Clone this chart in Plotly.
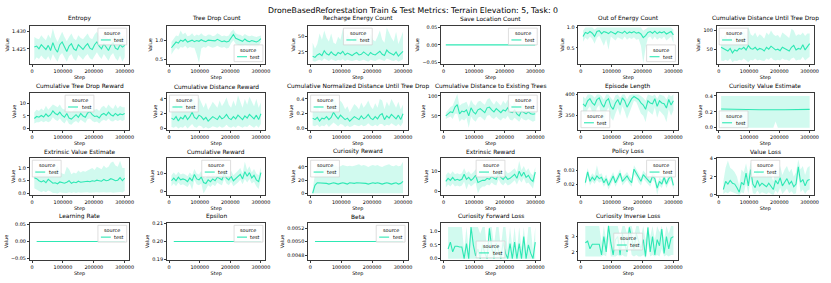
import plotly.graph_objects as go

W, H = 831, 283
LINE = "#2ee8b4"
BAND = "rgba(46,232,180,0.22)"
FONT = "DejaVu Sans"

suptitle = "DroneBasedReforestation Train & Test Metrics: Terrain Elevation: 5, Task: 0"
x_tickvals = [0, 100000, 200000, 300000]
x_ticktext = ["0", "100000", "200000", "300000"]

env_steps = [7500, 15000, 22500, 30000, 37500, 45000, 52500, 60000, 67500, 75000,
             82500, 90000, 97500, 105000, 112500, 120000, 127500, 135000, 142500, 150000,
             157500, 165000, 172500, 180000, 187500, 195000, 202500, 210000, 217500, 225000,
             232500, 240000, 247500, 255000, 262500, 270000, 277500, 285000, 292500, 300000]
train_steps = env_steps[1:]

entropy_mean = [1.4255, 1.4258, 1.4250, 1.4262, 1.4255, 1.4248, 1.4260, 1.4245, 1.4268, 1.4250,
                1.4240, 1.4262, 1.4270, 1.4255, 1.4242, 1.4258, 1.4265, 1.4250, 1.4245, 1.4262,
                1.4255, 1.4248, 1.4258, 1.4265, 1.4252, 1.4248, 1.4262, 1.4270, 1.4258, 1.4250,
                1.4265, 1.4255, 1.4245, 1.4260, 1.4268, 1.4252, 1.4248, 1.4262, 1.4255, 1.4260]
entropy_hi = [1.4285, 1.4280, 1.4278, 1.4290, 1.4282, 1.4275, 1.4292, 1.4280, 1.4310, 1.4285,
              1.4270, 1.4288, 1.4300, 1.4285, 1.4272, 1.4285, 1.4295, 1.4280, 1.4275, 1.4290,
              1.4282, 1.4278, 1.4288, 1.4295, 1.4282, 1.4278, 1.4292, 1.4300, 1.4288, 1.4280,
              1.4295, 1.4285, 1.4278, 1.4290, 1.4298, 1.4282, 1.4280, 1.4292, 1.4285, 1.4290]
entropy_lo = [1.4215, 1.4225, 1.4220, 1.4230, 1.4222, 1.4218, 1.4228, 1.4215, 1.4235, 1.4222,
              1.4212, 1.4230, 1.4238, 1.4225, 1.4212, 1.4228, 1.4235, 1.4220, 1.4215, 1.4232,
              1.4225, 1.4218, 1.4228, 1.4235, 1.4222, 1.4218, 1.4230, 1.4240, 1.4228, 1.4220,
              1.4235, 1.4225, 1.4215, 1.4230, 1.4238, 1.4222, 1.4215, 1.4230, 1.4212, 1.4225]

treedrop_mean = [0.80, 0.88, 0.95, 0.92, 1.00, 0.97, 1.02, 0.95, 0.98, 1.00,
                 0.96, 0.99, 0.97, 1.01, 0.98, 0.96, 1.00, 0.99, 0.97, 0.98,
                 1.02, 0.99, 0.96, 0.98, 0.95, 0.97, 1.08, 1.15, 1.05, 1.02,
                 1.00, 0.97, 1.03, 0.98, 0.96, 0.99, 0.97, 0.95, 0.98, 1.04]
treedrop_hi = [0.95, 1.05, 1.12, 1.10, 1.25, 1.15, 1.20, 1.10, 1.12, 1.18,
               1.10, 1.15, 1.12, 1.18, 1.12, 1.10, 1.15, 1.14, 1.10, 1.12,
               1.18, 1.15, 1.10, 1.12, 1.10, 1.12, 1.22, 1.28, 1.18, 1.15,
               1.14, 1.10, 1.16, 1.12, 1.10, 1.12, 1.10, 1.08, 1.10, 1.12]
treedrop_lo = [0.62, 0.72, 0.80, 0.75, 0.82, 0.80, 0.85, 0.78, 0.82, 0.80,
               0.80, 0.62, 0.40, 0.78, 0.82, 0.80, 0.85, 0.82, 0.80, 0.82,
               0.85, 0.82, 0.80, 0.82, 0.78, 0.80, 0.92, 1.00, 0.90, 0.88,
               0.85, 0.82, 0.88, 0.84, 0.82, 0.85, 0.82, 0.80, 0.84, 0.95]

recharge_mean = [18, 16, 20, 22, 19, 27, 22, 20, 25, 21,
                 19, 24, 22, 26, 20, 23, 21, 19, 22, 24,
                 20, 21, 25, 22, 19, 24, 21, 20, 23, 26,
                 21, 19, 28, 24, 22, 20, 25, 18, 22, 26]
recharge_hi = [40, 30, 38, 55, 45, 60, 48, 42, 55, 40,
               38, 50, 45, 62, 42, 55, 45, 40, 48, 52,
               42, 45, 65, 48, 40, 55, 45, 42, 50, 60,
               45, 40, 65, 55, 48, 42, 58, 38, 48, 58]
recharge_lo = [10, 9, 11, 12, 10, 14, 12, 10, 13, 11,
               10, 12, 11, 13, 10, 12, 11, 10, 11, 12,
               10, 11, 12, 11, 9, 12, 11, 10, 12, 13,
               11, 10, 14, 12, 11, 10, 12, 9, 11, 13]

saveloc_mean = [0, 0, 0, 0, 0, 0, 0, 0, 0, 0, 0, 0, 0, 0, 0, 0, 0, 0, 0, 0,
                0, 0, 0, 0, 0, 0, 0, 0, 0, 0, 0, 0, 0, 0, 0, 0, 0, 0, 0, 0]

outenergy_mean = [0.78, 0.88, 0.85, 0.90, 0.86, 0.78, 0.90, 0.92, 0.85, 0.90,
                  0.88, 0.85, 0.90, 0.87, 0.84, 0.90, 0.88, 0.86, 0.91, 0.85,
                  0.89, 0.87, 0.90, 0.86, 0.88, 0.84, 0.75, 0.80, 0.88, 0.90,
                  0.86, 0.91, 0.85, 0.89, 0.87, 0.90, 0.84, 0.88, 0.90, 0.82]
outenergy_hi = [0.92, 1.0, 1.0, 1.0, 1.0, 0.95, 1.0, 1.0, 1.0, 1.0,
                1.0, 1.0, 1.0, 1.0, 1.0, 1.0, 1.0, 1.0, 1.0, 1.0,
                1.0, 1.0, 1.0, 1.0, 1.0, 1.0, 0.92, 0.95, 1.0, 1.0,
                1.0, 1.0, 1.0, 1.0, 1.0, 1.0, 1.0, 1.0, 1.0, 0.95]
outenergy_lo = [0.65, 0.75, 0.70, 0.78, 0.72, 0.60, 0.75, 0.80, 0.70, 0.55,
                0.72, 0.45, 0.78, 0.72, 0.68, 0.76, 0.74, 0.70, 0.78, 0.70,
                0.75, 0.72, 0.76, 0.70, 0.72, 0.55, 0.12, 0.50, 0.74, 0.78,
                0.70, 0.78, 0.70, 0.75, 0.72, 0.78, 0.68, 0.74, 0.78, 0.62]

cumdist_mean = [55, 52, 50, 45, 52, 40, 48, 45, 52, 50,
                55, 48, 60, 52, 50, 55, 48, 52, 50, 45,
                55, 50, 58, 52, 48, 50, 46, 55, 52, 50,
                45, 55, 60, 48, 52, 50, 62, 48, 55, 65]
cumdist_hi = [85, 80, 90, 75, 95, 70, 88, 85, 92, 80,
              100, 85, 110, 90, 85, 95, 82, 90, 85, 78,
              95, 88, 100, 90, 85, 88, 80, 95, 90, 85,
              80, 105, 100, 85, 90, 88, 95, 85, 92, 92]
cumdist_lo = [20, 18, 22, 18, 25, 15, 20, 18, 22, 20,
              25, 20, 15, 22, 20, 25, 20, 22, 20, 18,
              25, 22, 28, 22, 20, 22, 20, 25, 22, 22,
              18, 25, 28, 20, 22, 22, 30, 20, 25, 30]

ctdr_mean = [4.0, 4.8, 4.5, 5.2, 4.6, 5.8, 4.8, 5.5, 7.0, 6.0,
             5.5, 6.5, 5.2, 4.5, 6.0, 4.2, 3.8, 4.8, 5.5, 4.5,
             6.0, 5.0, 4.5, 6.2, 6.8, 5.5, 4.8, 5.0, 4.2, 5.5,
             6.0, 5.2, 6.5, 5.5, 5.0, 6.0, 5.2, 5.8, 5.5, 6.0]
ctdr_hi = [6.5, 7.5, 7.0, 8.0, 7.2, 9.0, 7.5, 8.5, 9.5, 9.0,
           8.5, 9.5, 8.0, 7.5, 9.0, 7.0, 6.5, 7.5, 8.5, 7.2,
           8.8, 7.8, 7.2, 9.0, 9.5, 8.5, 7.5, 7.8, 7.0, 8.5,
           9.0, 8.0, 9.5, 8.5, 7.8, 9.5, 8.0, 9.0, 8.5, 8.5]
ctdr_lo = [2.0, 2.5, 2.5, 3.0, 2.5, 3.0, 2.5, 3.0, 4.5, 3.5,
           3.0, 4.0, 2.8, 2.0, 3.5, 1.8, 1.5, 2.5, 3.0, 2.2,
           3.5, 2.8, 2.2, 3.8, 4.0, 3.0, 2.5, 2.8, 2.0, 3.0,
           3.5, 3.0, 4.0, 3.0, 2.8, 3.5, 3.0, 3.5, 3.0, 3.5]

cdr_mean = [1.4, 1.2, 1.6, 1.0, 1.5, 1.3, 1.8, 1.2, 1.6, 2.2,
            1.5, 1.3, 1.8, 1.6, 1.2, 1.5, 1.0, 1.3, 1.6, 1.4,
            1.2, 1.7, 1.3, 1.5, 1.9, 1.4, 1.2, 1.6, 1.3, 1.8,
            1.5, 1.2, 1.7, 1.4, 1.9, 1.6, 1.3, 1.8, 1.2, 2.0]
cdr_hi = [3.0, 2.8, 3.5, 2.5, 3.2, 3.0, 4.0, 2.8, 3.5, 4.5,
          3.8, 3.0, 4.2, 3.6, 2.8, 3.5, 2.5, 3.0, 3.6, 3.2,
          2.8, 3.8, 3.0, 3.5, 4.2, 3.2, 2.8, 3.8, 3.0, 4.5,
          3.5, 2.8, 4.0, 3.2, 4.3, 3.6, 3.0, 4.0, 2.8, 3.5]
cdr_lo = [0.2, 0.1, 0.3, 0.0, 0.2, 0.1, 0.4, 0.0, 0.3, 0.6,
          0.2, 0.1, 0.4, 0.3, 0.0, 0.2, 0.0, 0.1, 0.3, 0.2,
          0.1, 0.3, 0.1, 0.2, 0.5, 0.2, 0.1, 0.3, 0.1, 0.4,
          0.2, 0.1, 0.3, 0.2, 0.5, 0.3, 0.1, 0.4, 0.1, 0.6]

cnd_mean = [0.14, 0.12, 0.15, 0.10, 0.14, 0.13, 0.16, 0.12, 0.15, 0.22,
            0.17, 0.13, 0.18, 0.15, 0.12, 0.14, 0.10, 0.13, 0.16, 0.14,
            0.12, 0.17, 0.13, 0.15, 0.19, 0.14, 0.12, 0.16, 0.13, 0.18,
            0.20, 0.12, 0.17, 0.14, 0.19, 0.16, 0.13, 0.18, 0.12, 0.20]
cnd_hi = [0.28, 0.26, 0.32, 0.22, 0.30, 0.28, 0.35, 0.26, 0.32, 0.42,
          0.36, 0.28, 0.38, 0.33, 0.26, 0.30, 0.22, 0.28, 0.33, 0.30,
          0.26, 0.35, 0.28, 0.32, 0.38, 0.30, 0.26, 0.34, 0.28, 0.40,
          0.38, 0.26, 0.36, 0.30, 0.40, 0.34, 0.28, 0.36, 0.26, 0.32]
cnd_lo = [0.04, 0.03, 0.05, 0.02, 0.04, 0.03, 0.06, 0.02, 0.05, 0.08,
          0.05, 0.03, 0.06, 0.05, 0.02, 0.04, 0.02, 0.03, 0.05, 0.04,
          0.03, 0.05, 0.03, 0.04, 0.07, 0.04, 0.03, 0.05, 0.03, 0.06,
          0.06, 0.03, 0.05, 0.04, 0.07, 0.05, 0.03, 0.06, 0.03, 0.08]

cdet_mean = [50, 55, 60, 58, 72, 78, 55, 62, 60, 65,
             50, 70, 60, 55, 65, 68, 62, 58, 70, 72,
             65, 60, 68, 62, 58, 65, 62, 70, 60, 58,
             65, 55, 50, 62, 58, 55, 60, 55, 54, 55]
cdet_hi = [58, 65, 72, 75, 90, 105, 75, 80, 82, 85,
           72, 90, 80, 75, 85, 88, 82, 78, 90, 95,
           85, 78, 88, 82, 75, 88, 80, 90, 80, 75,
           85, 72, 68, 80, 75, 72, 78, 72, 70, 72]
cdet_lo = [42, 45, 48, 42, 55, 55, 35, 42, 38, 45,
           20, 48, 40, 35, 45, 48, 42, 38, 50, 52,
           45, 42, 48, 42, 38, 45, 42, 50, 40, 38,
           45, 40, 35, 45, 40, 38, 42, 38, 35, 38]

eplen_mean = [378, 372, 385, 390, 380, 375, 388, 392, 378, 370,
              385, 390, 372, 365, 380, 388, 375, 392, 385, 370,
              380, 390, 395, 392, 388, 380, 375, 365, 385, 380,
              378, 390, 372, 385, 380, 378, 368, 388, 375, 385]
eplen_hi = [395, 390, 400, 400, 398, 392, 400, 400, 396, 388,
            400, 400, 392, 385, 398, 400, 392, 400, 400, 388,
            398, 400, 400, 400, 400, 396, 392, 385, 400, 398,
            396, 400, 390, 400, 398, 396, 388, 400, 395, 400]
eplen_lo = [355, 350, 365, 372, 358, 350, 368, 375, 340, 320,
            360, 370, 345, 338, 355, 368, 350, 372, 360, 342,
            358, 370, 385, 382, 370, 355, 350, 335, 362, 358,
            352, 370, 345, 362, 355, 350, 335, 365, 350, 362]

cve_mean = [0.235, 0.234, 0.234, 0.233, 0.233, 0.232, 0.232, 0.231, 0.231, 0.230,
            0.230, 0.230, 0.229, 0.229, 0.228, 0.228, 0.228, 0.227, 0.227, 0.226,
            0.226, 0.226, 0.225, 0.225, 0.225, 0.226, 0.226, 0.227, 0.227, 0.228,
            0.228, 0.229, 0.229, 0.229, 0.230, 0.230, 0.230, 0.231, 0.231, 0.231]
cve_hi = [0.40, 0.40, 0.40, 0.40, 0.40, 0.40, 0.40, 0.40, 0.40, 0.40,
          0.40, 0.40, 0.40, 0.40, 0.40, 0.40, 0.40, 0.40, 0.40, 0.40,
          0.40, 0.40, 0.40, 0.40, 0.40, 0.40, 0.40, 0.40, 0.40, 0.40,
          0.40, 0.40, 0.40, 0.40, 0.40, 0.40, 0.40, 0.40, 0.40, 0.40]
cve_lo = [0.0, 0.0, 0.0, 0.0, 0.0, 0.0, 0.0, 0.0, 0.0, 0.0,
          0.0, 0.0, 0.0, 0.0, 0.0, 0.0, 0.0, 0.0, 0.0, 0.0,
          0.0, 0.0, 0.0, 0.0, 0.08, 0.0, 0.0, 0.0, 0.0, 0.0,
          0.0, 0.0, 0.0, 0.0, 0.0, 0.0, 0.0, 0.0, 0.0, 0.0]

eve_mean = [0.62, 0.58, 0.50, 0.45, 0.50, 0.42, 0.55, 0.48, 0.40, 0.42,
            0.38, 0.45, 0.42, 0.40, 0.44, 0.50, 0.40, 0.45, 0.42, 0.48,
            0.44, 0.46, 0.45, 0.48, 0.46, 0.50, 0.48, 0.52, 0.50, 0.48,
            0.55, 0.50, 0.52, 0.58, 0.55, 0.50, 0.52, 0.62, 0.50, 0.60]
eve_hi = [0.95, 0.90, 0.80, 0.78, 0.82, 0.75, 0.90, 0.85, 0.72, 0.95,
          1.10, 0.85, 0.78, 0.75, 1.05, 0.95, 0.75, 0.82, 0.78, 0.90,
          0.82, 0.88, 0.85, 0.90, 0.95, 1.00, 0.92, 1.05, 1.00, 0.95,
          1.10, 1.00, 1.05, 1.20, 1.25, 1.10, 1.05, 1.28, 1.00, 1.00]
eve_lo = [0.20, 0.15, 0.10, 0.05, 0.10, 0.05, 0.12, 0.08, 0.02, 0.02,
          0.00, 0.05, 0.03, 0.02, 0.02, 0.05, 0.02, 0.05, 0.02, 0.05,
          0.03, 0.04, 0.03, 0.05, 0.03, 0.05, 0.04, 0.05, 0.04, 0.03,
          0.05, 0.04, 0.04, 0.05, 0.03, 0.03, 0.04, 0.06, 0.04, 0.10]

cumrew_mean = [6.0, 7.5, 6.0, 8.0, 6.5, 7.0, 6.5, 5.5, 7.5, 6.0,
               9.5, 7.0, 6.5, 8.0, 5.0, 4.5, 6.5, 5.5, 7.0, 6.0,
               8.0, 7.0, 6.5, 10.0, 7.5, 6.5, 8.5, 6.0, 7.0, 8.0,
               9.5, 7.0, 11.0, 8.5, 10.5, 7.5, 9.0, 6.5, 5.5, 10.5]
cumrew_hi = [9.0, 10.5, 9.0, 11.0, 9.5, 10.0, 9.5, 8.5, 10.5, 9.0,
             12.5, 10.0, 9.5, 11.5, 8.0, 7.5, 9.5, 8.5, 10.0, 9.0,
             11.0, 10.0, 9.5, 13.0, 10.5, 9.5, 11.5, 9.0, 10.0, 11.5,
             13.0, 10.0, 16.5, 12.0, 14.0, 10.5, 12.5, 10.0, 9.0, 13.5]
cumrew_lo = [3.0, 4.5, 3.0, 5.0, 3.5, 4.0, 3.5, 2.5, 4.5, 1.0,
             6.5, 4.0, 3.5, 4.5, -1.0, 1.5, 3.5, 2.5, 4.0, 3.0,
             5.0, 4.0, 3.5, 7.0, 4.5, 3.5, 5.5, 3.0, 4.0, 5.0,
             6.5, 4.0, 7.0, 5.0, 7.0, 4.5, 5.5, 3.0, 1.5, 7.5]

currew_mean = [0, 12, 16, 16, 15, 16, 15, 14, 15, 16,
               15, 14, 15, 16, 15, 14, 16, 15, 15, 16,
               16, 15, 16, 15, 14, 15, 16, 15, 16, 15,
               14, 15, 16, 15, 14, 15, 16, 14, 15, 18]
currew_hi = [5, 30, 40, 42, 40, 43, 42, 40, 41, 43,
             42, 40, 41, 43, 42, 41, 42, 41, 42, 43,
             44, 42, 43, 42, 40, 42, 43, 42, 43, 41,
             40, 42, 43, 44, 42, 41, 43, 41, 42, 48]
currew_lo = [0, 0, 0, 0, 0, 0, 0, 0, 0, 0, 0, 0, 0, 0, 0, 0, 0, 0, 0, 0,
             0, 0, 0, 0, 0, 0, 0, 0, 0, 0, 0, 0, 0, 0, 0, 0, 0, 0, 0, 0]

extrew_mean = [5.0, 6.5, 5.5, 7.0, 5.5, 6.0, 5.5, 6.0, 8.5, 6.0,
               7.0, 5.5, 6.5, 8.0, 4.5, 5.0, 5.5, 5.5, 6.5, 6.0,
               7.5, 6.5, 6.0, 9.0, 7.0, 6.0, 7.5, 6.0, 6.5, 7.5,
               8.5, 6.5, 10.0, 7.5, 9.5, 7.0, 8.0, 6.0, 5.0, 9.5]
extrew_hi = [8.0, 9.5, 8.5, 10.0, 8.5, 9.0, 8.5, 9.0, 11.5, 9.0,
             10.0, 8.5, 9.5, 11.0, 7.5, 8.0, 8.5, 8.5, 9.5, 9.0,
             10.5, 9.5, 9.0, 12.0, 10.0, 9.0, 10.5, 9.0, 9.5, 10.5,
             11.5, 9.5, 15.0, 10.5, 12.5, 10.0, 11.5, 9.0, 8.0, 12.0]
extrew_lo = [2.0, 3.5, 2.5, 4.0, 2.5, 3.0, 2.5, 3.0, 5.0, 1.0,
             4.0, 2.5, 3.5, 4.5, -1.0, 1.5, 2.5, 2.5, 3.5, 3.0,
             4.5, 3.5, 3.0, 6.0, 4.0, 3.0, 4.5, 3.0, 3.5, 4.5,
             5.5, 3.5, 6.0, 4.5, 6.5, 4.0, 4.5, 3.0, 1.5, 6.5]

polloss_mean = [0.021, 0.029, 0.022, 0.025, 0.023, 0.026, 0.024, 0.025, 0.021, 0.024,
                0.019, 0.023, 0.026, 0.021, 0.024, 0.028, 0.022, 0.024, 0.026, 0.023,
                0.021, 0.031, 0.028, 0.024, 0.022, 0.027, 0.025, 0.023, 0.021, 0.026,
                0.024, 0.017, 0.022, 0.020, 0.025, 0.020, 0.024, 0.026, 0.019]
polloss_hi = [0.024, 0.032, 0.025, 0.028, 0.026, 0.034, 0.027, 0.028, 0.024, 0.027,
              0.022, 0.026, 0.029, 0.024, 0.027, 0.031, 0.025, 0.027, 0.029, 0.026,
              0.024, 0.034, 0.031, 0.027, 0.025, 0.030, 0.028, 0.026, 0.024, 0.029,
              0.027, 0.020, 0.025, 0.023, 0.028, 0.023, 0.027, 0.029, 0.022]
polloss_lo = [0.018, 0.026, 0.019, 0.022, 0.020, 0.023, 0.021, 0.022, 0.018, 0.021,
              0.016, 0.020, 0.023, 0.018, 0.021, 0.025, 0.019, 0.021, 0.023, 0.020,
              0.018, 0.027, 0.025, 0.021, 0.019, 0.024, 0.022, 0.020, 0.018, 0.023,
              0.021, 0.012, 0.019, 0.017, 0.022, 0.017, 0.021, 0.023, 0.016]

valloss_mean = [0.6, 1.5, 1.2, 1.6, 1.3, 1.2, 0.8, 0.3, 1.4, 1.1,
                2.4, 1.0, 2.8, 1.2, 0.8, 1.6, 1.0, 1.3, 1.1, 0.9,
                1.3, 1.0, 0.6, 1.6, 1.2, 1.9, 1.0, 1.4, 1.8, 1.2,
                1.5, 0.9, 1.2, 3.1, 1.4, 1.7, 1.0, 1.6, 1.7]
valloss_hi = [1.5, 3.0, 3.8, 3.0, 2.8, 2.5, 2.0, 1.0, 2.8, 2.5,
              3.5, 2.2, 3.6, 2.8, 2.0, 3.0, 2.2, 2.6, 2.4, 2.0,
              2.6, 2.2, 1.5, 3.0, 2.5, 3.2, 2.2, 2.8, 3.2, 2.5,
              2.9, 2.0, 2.5, 3.9, 2.8, 3.2, 2.2, 3.0, 3.2]
valloss_lo = [0.1, 0.3, 0.2, 0.4, 0.3, 0.2, 0.1, 0.0, 0.3, 0.2,
              1.3, 0.1, 1.8, 0.2, 0.1, 0.5, 0.1, 0.3, 0.2, 0.1,
              0.3, 0.1, 0.0, 0.5, 0.2, 0.8, 0.1, 0.4, 0.7, 0.2,
              0.4, 0.1, 0.2, 2.2, 0.3, 0.6, 0.1, 0.5, 0.6]

lr_mean = [0, 0, 0, 0, 0, 0, 0, 0, 0, 0, 0, 0, 0, 0, 0, 0, 0, 0, 0, 0,
           0, 0, 0, 0, 0, 0, 0, 0, 0, 0, 0, 0, 0, 0, 0, 0, 0, 0, 0]
eps_mean = [0.2, 0.2, 0.2, 0.2, 0.2, 0.2, 0.2, 0.2, 0.2, 0.2, 0.2, 0.2, 0.2,
            0.2, 0.2, 0.2, 0.2, 0.2, 0.2, 0.2, 0.2, 0.2, 0.2, 0.2, 0.2, 0.2,
            0.2, 0.2, 0.2, 0.2, 0.2, 0.2, 0.2, 0.2, 0.2, 0.2, 0.2, 0.2, 0.2]
beta_mean = [0.005, 0.005, 0.005, 0.005, 0.005, 0.005, 0.005, 0.005, 0.005, 0.005,
             0.005, 0.005, 0.005, 0.005, 0.005, 0.005, 0.005, 0.005, 0.005, 0.005,
             0.005, 0.005, 0.005, 0.005, 0.005, 0.005, 0.005, 0.005, 0.005, 0.005,
             0.005, 0.005, 0.005, 0.005, 0.005, 0.005, 0.005, 0.005, 0.005]

cfl_mean = [0.35, 0.6, 0.25, 0.45, 0.45, 0.42, 0.42, 0.0, 0.55, 0.0,
            1.15, 0.5, 0.1, 0.35, 0.0, 0.5, 0.2, 0.0, 1.1, 0.4,
            0.0, 0.55, 0.3, 0.0, 0.6, 0.2, 0.0, 0.55, 0.0, 0.6,
            0.0, 0.55, 0.0, 0.8, 0.0, 0.5, 0.2, 0.0, 0.6]
cfl_hi = [1.15, 1.15, 1.15, 1.15, 1.15, 1.15, 1.15, 0.3, 1.15, 0.3,
          1.15, 1.15, 1.15, 1.15, 0.9, 1.15, 1.15, 0.3, 1.15, 1.15,
          0.5, 1.15, 1.15, 0.4, 1.15, 1.15, 0.3, 1.15, 0.4, 1.15,
          0.3, 1.15, 0.4, 1.15, 0.3, 1.15, 1.15, 0.3, 1.15]
cfl_lo = [0, 0, 0, 0, 0, 0, 0, 0, 0, 0, 0, 0, 0, 0, 0, 0, 0, 0, 0, 0,
          0, 0, 0, 0, 0, 0, 0, 0, 0, 0, 0, 0, 0, 0, 0, 0, 0, 0, 0]

cil_mean = [2.6, 2.7, 2.2, 2.5, 2.5, 2.5, 2.5, 1.8, 3.0, 2.0,
            3.7, 2.6, 1.8, 2.8, 3.0, 1.8, 3.2, 2.5, 2.0, 3.6,
            2.8, 2.2, 3.2, 2.6, 2.2, 2.8, 1.7, 3.6, 2.0, 3.0,
            1.8, 2.8, 2.4, 3.5, 1.9, 3.0, 2.2, 2.9, 3.0]
cil_hi = [3.7, 3.7, 3.7, 3.7, 3.7, 3.7, 3.7, 2.6, 3.7, 2.8,
          3.7, 3.7, 3.7, 3.7, 3.7, 3.0, 3.7, 3.7, 3.2, 3.7,
          3.7, 3.0, 3.7, 3.7, 3.0, 3.7, 2.8, 3.7, 3.0, 3.7,
          2.8, 3.7, 3.3, 3.7, 2.8, 3.7, 3.2, 3.7, 3.7]
cil_lo = [1.7, 1.7, 1.7, 1.7, 1.7, 1.7, 1.7, 1.7, 1.8, 1.7,
          2.8, 1.7, 1.7, 1.7, 1.8, 1.7, 1.8, 1.7, 1.7, 2.8,
          1.8, 1.7, 1.8, 1.7, 1.7, 1.8, 1.6, 2.5, 1.7, 1.8,
          1.7, 1.8, 1.7, 2.2, 1.7, 1.8, 1.7, 1.8, 1.8]

# (title, steps, mean, lo, hi, y tick values, y tick labels)
panels = [
    ("Entropy", env_steps, entropy_mean, entropy_lo, entropy_hi, [1.425, 1.430], ["1.425", "1.430"]),
    ("Tree Drop Count", env_steps, treedrop_mean, treedrop_lo, treedrop_hi, [0.5, 1.0], ["0.5", "1.0"]),
    ("Recharge Energy Count", env_steps, recharge_mean, recharge_lo, recharge_hi, [25, 50], ["25", "50"]),
    ("Save Location Count", env_steps, saveloc_mean, saveloc_mean, saveloc_mean, [-0.05, 0, 0.05], ["\u22120.05", "0.00", "0.05"]),
    ("Out of Energy Count", env_steps, outenergy_mean, outenergy_lo, outenergy_hi, [0.5, 1.0], ["0.5", "1.0"]),
    ("Cumulative Distance Until Tree Drop", env_steps, cumdist_mean, cumdist_lo, cumdist_hi, [50, 100], ["50", "100"]),
    ("Cumulative Tree Drop Reward", env_steps, ctdr_mean, ctdr_lo, ctdr_hi, [0, 5, 10], ["0", "5", "10"]),
    ("Cumulative Distance Reward", env_steps, cdr_mean, cdr_lo, cdr_hi, [0, 2, 4], ["0", "2", "4"]),
    ("Cumulative Normalized Distance Until Tree Drop", env_steps, cnd_mean, cnd_lo, cnd_hi, [0, 0.2, 0.4], ["0.0", "0.2", "0.4"]),
    ("Cumulative Distance to Existing Trees", env_steps, cdet_mean, cdet_lo, cdet_hi, [50, 100], ["50", "100"]),
    ("Episode Length", env_steps, eplen_mean, eplen_lo, eplen_hi, [350, 400], ["350", "400"]),
    ("Curiosity Value Estimate", env_steps, cve_mean, cve_lo, cve_hi, [0, 0.2, 0.4], ["0.0", "0.2", "0.4"]),
    ("Extrinsic Value Estimate", env_steps, eve_mean, eve_lo, eve_hi, [0, 0.5, 1.0], ["0.0", "0.5", "1.0"]),
    ("Cumulative Reward", env_steps, cumrew_mean, cumrew_lo, cumrew_hi, [0, 10], ["0", "10"]),
    ("Curiosity Reward", env_steps, currew_mean, currew_lo, currew_hi, [0, 20, 40], ["0", "20", "40"]),
    ("Extrinsic Reward", env_steps, extrew_mean, extrew_lo, extrew_hi, [0, 10], ["0", "10"]),
    ("Policy Loss", train_steps, polloss_mean, polloss_lo, polloss_hi, [0.02, 0.03], ["0.02", "0.03"]),
    ("Value Loss", train_steps, valloss_mean, valloss_lo, valloss_hi, [0, 2, 4], ["0", "2", "4"]),
    ("Learning Rate", train_steps, lr_mean, lr_mean, lr_mean, [-0.05, 0, 0.05], ["\u22120.05", "0.00", "0.05"]),
    ("Epsilon", train_steps, eps_mean, eps_mean, eps_mean, [0.19, 0.20, 0.21], ["0.19", "0.20", "0.21"]),
    ("Beta", train_steps, beta_mean, beta_mean, beta_mean, [0.0048, 0.0050, 0.0052], ["0.0048", "0.0050", "0.0052"]),
    ("Curiosity Forward Loss", train_steps, cfl_mean, cfl_lo, cfl_hi, [0, 0.5, 1.0], ["0.0", "0.5", "1.0"]),
    ("Curiosity Inverse Loss", train_steps, cil_mean, cil_lo, cil_hi, [2, 3], ["2", "3"]),
]

# ---- layout (pixels) ----
cols_px = [(30, 130), (168, 267), (310, 410), (444, 543), (582, 682), (721, 819)]
rows_px = [(24, 63), (92, 130), (158, 196), (224, 262)]
y_ranges = [
    [1.4205, 1.4318], [0.37, 1.38], [5, 68], [-0.055, 0.055], [0.1, 1.045], [10, 113],
    [-0.6, 14.2], [-0.23, 4.84], [-0.023, 0.484], [14, 108], [316, 404], [-0.03, 0.44],
    [-0.07, 1.40], [-2, 18.7], [-3, 54], [-1.8, 16.6], [0.0117, 0.0395], [-0.03, 4.1],
    [-0.055, 0.055], [0.1895, 0.2105], [0.004723, 0.005277], [-0.06, 1.3], [1.45, 3.9],
]
legend_locs = ["ur", "lr", "uc", "ur", "lr", "ul",
               "uc", "ul", "ul", "ur", "ll", "ll",
               "ul", "uc", "ul", "uc", "ur", "uc",
               "ur", "ur", "ur", "lc", "cc"]

fig = go.Figure()
shapes, annotations = [], []

def px(x, y):
    return x / W, 1 - y / H

for i, (title, steps, mean, lo, hi, ytv, ytt) in enumerate(panels):
    assert len(steps) == len(mean) == len(lo) == len(hi), title
    r, c = divmod(i, 6)
    L, R = cols_px[c]
    T, B = rows_px[r]
    n = "" if i == 0 else str(i + 1)
    xa, ya = "x" + n, "y" + n
    xr = [-7125, 314625]

    fig.add_trace(go.Scatter(x=list(steps) + list(steps)[::-1], y=list(hi) + list(lo)[::-1],
                             fill="toself", fillcolor=BAND, line=dict(width=0),
                             mode="lines", hoverinfo="skip", showlegend=False,
                             xaxis=xa, yaxis=ya))
    fig.add_trace(go.Scatter(x=steps, y=mean, mode="lines", line=dict(color=LINE, width=1.1),
                             showlegend=False, xaxis=xa, yaxis=ya))

    ax_common = dict(showline=True, mirror=True, linecolor="#3a3a3a", linewidth=0.8,
                     ticks="outside", ticklen=2, tickwidth=0.7, tickcolor="#3a3a3a",
                     showgrid=False, zeroline=False,
                     tickfont=dict(size=4.9, color="black", family=FONT))
    fig.layout["xaxis" + n] = dict(ax_common, domain=[L / W, R / W], anchor=ya, range=xr,
                                  tickvals=x_tickvals, ticktext=x_ticktext,
                                  title=dict(text="Step", font=dict(size=4.9, color="black", family=FONT), standoff=2))
    fig.layout["yaxis" + n] = dict(ax_common, domain=[1 - B / H, 1 - T / H], anchor=xa,
                                  range=y_ranges[i], tickvals=ytv, ticktext=ytt,
                                  title=dict(text="Value", font=dict(size=4.9, color="black", family=FONT), standoff=2))

    # subplot title
    tx, ty = px((L + R) / 2, T - 2.2)
    annotations.append(dict(x=tx, y=ty, xref="paper", yref="paper", text=title, showarrow=False,
                            xanchor="center", yanchor="bottom", borderpad=0,
                            font=dict(size=5.9, color="black", family=FONT)))

    # legend box (drawn like matplotlib's)
    w, h, pad = 29, 17, 2.5
    loc = legend_locs[i]
    if loc[1] == "l":
        lx = L + pad
    elif loc[1] == "r":
        lx = R - pad - w
    else:
        lx = (L + R) / 2 - w / 2
    if loc[0] == "u":
        ly = T + pad
    elif loc[0] == "l":
        ly = B - pad - h
    else:
        ly = (T + B) / 2 - h / 2
    x0, y1 = px(lx, ly)
    x1, y0 = px(lx + w, ly + h)
    shapes.append(dict(type="rect", xref="paper", yref="paper", x0=x0, x1=x1, y0=y0, y1=y1,
                       line=dict(color="#d0d0d0", width=0.7), fillcolor="rgba(255,255,255,0.8)", layer="above"))
    sx0, sy = px(lx + 3, ly + 12)
    sx1, _ = px(lx + 13, ly + 12)
    shapes.append(dict(type="line", xref="paper", yref="paper", x0=sx0, x1=sx1, y0=sy, y1=sy,
                       line=dict(color=LINE, width=1.1), layer="above"))
    ax_, ay_ = px(lx + w / 2, ly + 5)
    annotations.append(dict(x=ax_, y=ay_, xref="paper", yref="paper", text="source", showarrow=False,
                            xanchor="center", yanchor="middle", borderpad=0,
                            font=dict(size=4.9, color="black", family=FONT)))
    bx_, by_ = px(lx + 15.5, ly + 12)
    annotations.append(dict(x=bx_, y=by_, xref="paper", yref="paper", text="test", showarrow=False,
                            xanchor="left", yanchor="middle", borderpad=0,
                            font=dict(size=4.9, color="black", family=FONT)))

stx, sty = px(W / 2, 9)
annotations.append(dict(x=stx, y=sty, xref="paper", yref="paper", text=suptitle, showarrow=False,
                        xanchor="center", yanchor="middle", borderpad=0,
                        font=dict(size=7.8, color="black", family=FONT)))

fig.update_layout(width=W, height=H, margin=dict(l=0, r=0, t=0, b=0),
                  paper_bgcolor="white", plot_bgcolor="white", showlegend=False,
                  font=dict(family=FONT, color="black"),
                  shapes=shapes, annotations=annotations)

fig.write_html("out.html", config={"displayModeBar": False},
               post_script="document.body.style.margin='0';document.body.style.padding='0';document.body.style.overflow='hidden';")
